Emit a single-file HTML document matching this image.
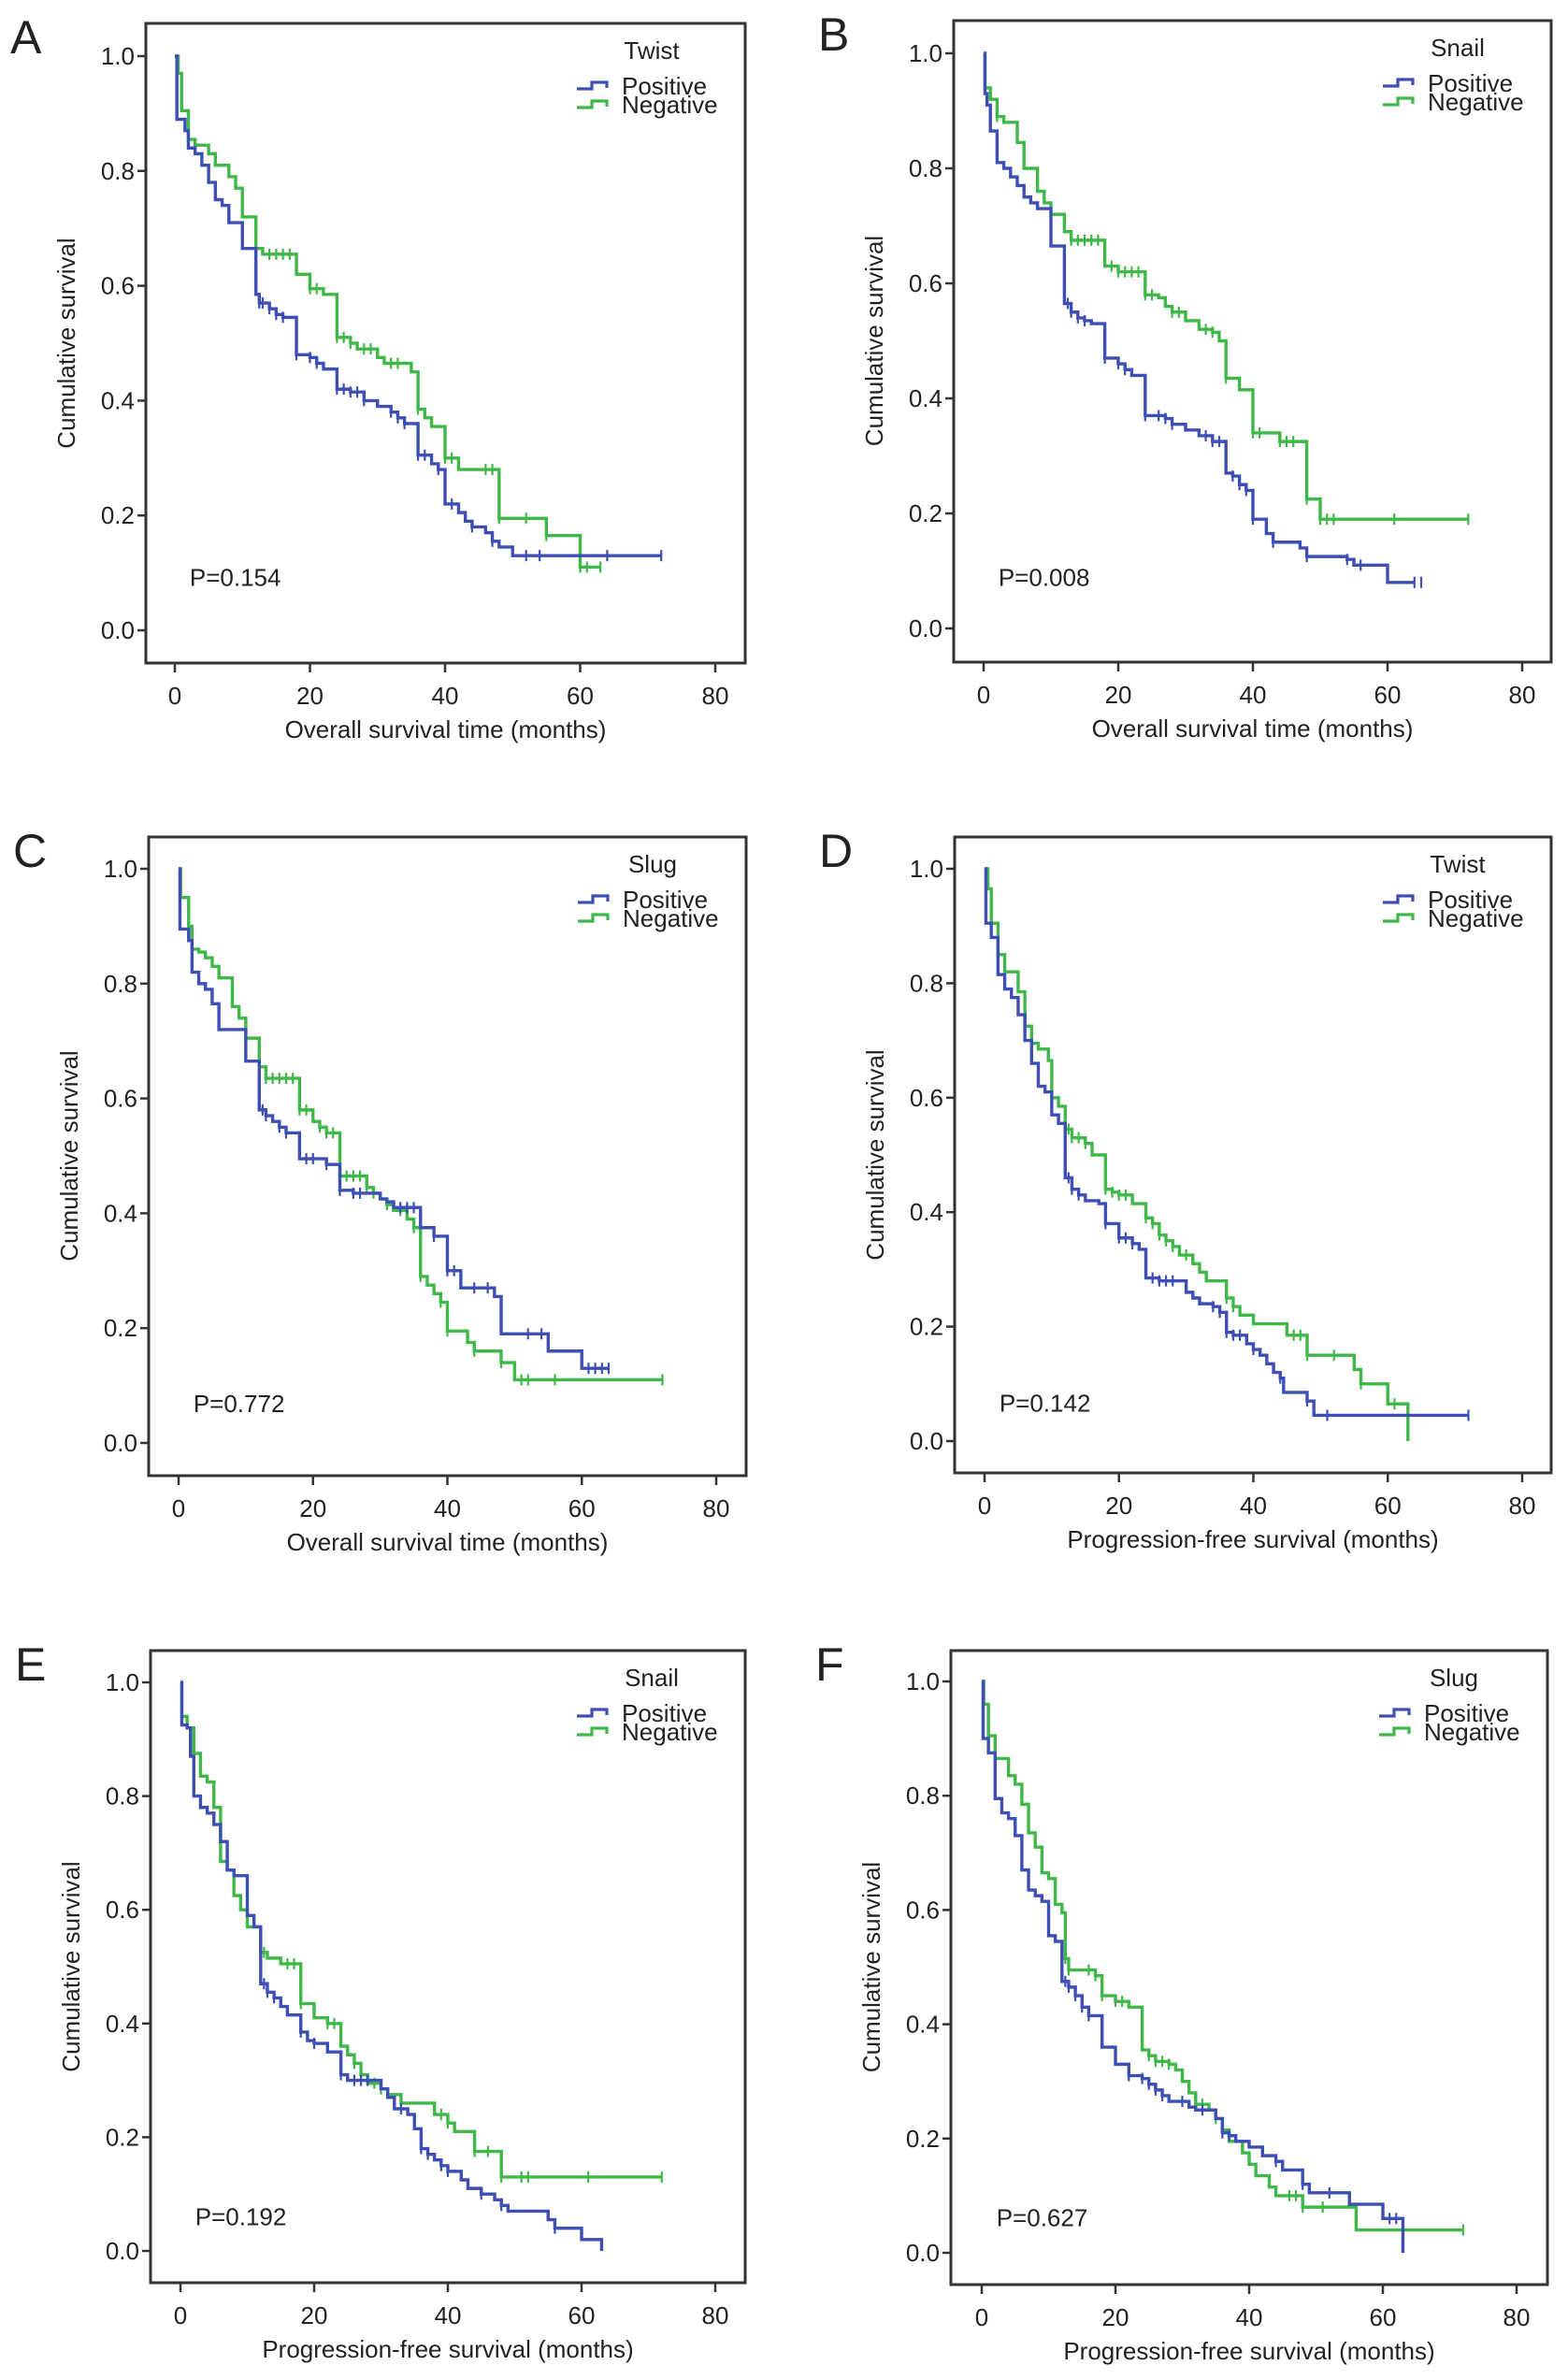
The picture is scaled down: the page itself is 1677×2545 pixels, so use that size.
<!DOCTYPE html>
<html><head><meta charset="utf-8">
<style>
html,body{margin:0;padding:0;background:#fff;}
svg{display:block;}
text{font-family:"Liberation Sans",Arial,sans-serif;fill:#222;}
</style></head>
<body>
<svg id="fig" width="1677" height="2545" viewBox="0 0 1677 2545" xmlns="http://www.w3.org/2000/svg"></svg>
<script>
// ---------- DATA (step times / survival after step / censor times) ----------
const aPosT=[0,0.3,1.5,2,3,4,5,6,7,8,10,12,12.5,14,15,16,18,20,21,22,24,26,28,30,32,33,34,36,38,39,40,42,43,44,46,47,48,50];
const aPosS=[1.0,0.89,0.87,0.84,0.83,0.81,0.78,0.75,0.74,0.71,0.665,0.585,0.57,0.56,0.55,0.545,0.48,0.475,0.465,0.455,0.42,0.415,0.40,0.39,0.38,0.37,0.36,0.305,0.29,0.28,0.22,0.205,0.19,0.18,0.17,0.155,0.145,0.13];
const aPosEnd=72;
const aPosC=[12.5,13,14,15,16,18,20,21,24,25,26,27,28,32,33,34,36,37,39,41,44,47,52,54,64,72];
const aNegT=[0,0.5,1,2,3,5,6,8,9,10,12,13,18,20,22,24,26,27,30,31,35,36,37,38,40,42,48,55,60];
const aNegS=[1.0,0.97,0.905,0.855,0.845,0.83,0.81,0.79,0.77,0.72,0.665,0.655,0.62,0.595,0.585,0.51,0.50,0.49,0.475,0.465,0.45,0.385,0.37,0.355,0.30,0.28,0.195,0.165,0.11];
const aNegEnd=63;
const aNegC=[14,15,16,17,20,21,24,25,26,28,29,32,33,36,40,41,46,47,48,52,55,60,61,63];

const bPosT=[0,0.2,0.5,1,2,3,4,5,6,7,8,10,12,13,14,15,16,18,20,21,22,24,27,28,30,32,34,36,37,38,39,40,42,43,47,48,54,55,60];
const bPosS=[1.0,0.93,0.91,0.865,0.81,0.80,0.785,0.77,0.75,0.74,0.73,0.665,0.565,0.55,0.54,0.535,0.53,0.47,0.46,0.45,0.44,0.37,0.365,0.355,0.345,0.335,0.325,0.27,0.265,0.25,0.24,0.19,0.165,0.15,0.14,0.125,0.12,0.11,0.08];
const bPosEnd=64;
const bPosC=[12.5,13,14,15,18,20,21,24,26,27,28,33,34,35,37,38,39,40,43,48,54,56,64,65];
const bNegT=[0,0.2,1,2,3,5,6,8,9,10,12,13,18,20,24,26,27,28,30,32,34,35,36,38,40,44,48,50];
const bNegS=[1.0,0.94,0.92,0.89,0.88,0.845,0.80,0.76,0.74,0.72,0.69,0.675,0.63,0.62,0.58,0.575,0.56,0.55,0.535,0.52,0.515,0.50,0.435,0.415,0.34,0.325,0.225,0.19];
const bNegEnd=72;
const bNegC=[2,13,14,15,16,17,19,20,21,22,23,24,25,28,29,33,34,36,40,41,44,45,46,48,50,51,52,61,72];

const cPosT=[0,0.2,1.5,2,3,4,5,6,10,12,13,14,15,16,18,22,24,26,30,31,32,36,38,40,42,47,48,55,60];
const cPosS=[1.0,0.895,0.875,0.82,0.80,0.79,0.765,0.72,0.665,0.58,0.57,0.56,0.55,0.54,0.495,0.485,0.44,0.435,0.425,0.42,0.41,0.375,0.36,0.30,0.27,0.255,0.19,0.16,0.13];
const cPosEnd=64;
const cPosC=[12.5,13,15,16,19,20,22,24,26,27,33,34,35,38,40,41,44,46,52,54,61,62,63,64];
const cNegT=[0,0.3,1.5,2,3,4,5,6,8,9,10,12,13,18,20,21,22,24,28,29,30,31,32,34,35,36,37,38,39,40,43,44,48,50];
const cNegS=[1.0,0.95,0.90,0.86,0.855,0.845,0.83,0.81,0.76,0.74,0.705,0.655,0.635,0.58,0.56,0.55,0.54,0.465,0.445,0.435,0.425,0.415,0.405,0.39,0.375,0.29,0.275,0.26,0.245,0.195,0.175,0.16,0.14,0.11];
const cNegEnd=72;
const cNegC=[2,13,14,15,16,17,18,19,21,22,23,25,26,27,28,29,31,33,35,36,39,40,44,48,51,52,56,72];

const dPosT=[0,0.2,1,2,3,4,5,6,7,8,9,10,11,12,13,14,15,17,18,20,22,23,24,26,30,31,32,34,35,36,37,39,40,41,42,43,44,44.5,48,49];
const dPosS=[1.0,0.905,0.88,0.815,0.79,0.775,0.745,0.70,0.66,0.62,0.61,0.57,0.555,0.46,0.44,0.43,0.42,0.415,0.38,0.355,0.345,0.335,0.285,0.28,0.26,0.25,0.24,0.235,0.225,0.19,0.185,0.17,0.16,0.15,0.135,0.12,0.11,0.085,0.07,0.045];
const dPosEnd=72;
const dPosC=[12.5,13,14,18,20,21,22,25,26,27,28,34,35,36,37,38,40,44,48,51,72];
const dNegT=[0,0.5,1,2,3,5,6,7,8,9.5,10,11,12,13,15,16,18,19,20,22,24,25,26,27,28,29,31,32,33,36,37,38,40,45,48,55,56,60,63];
const dNegS=[1.0,0.965,0.905,0.85,0.82,0.785,0.725,0.695,0.685,0.665,0.60,0.585,0.545,0.53,0.52,0.50,0.44,0.435,0.43,0.415,0.39,0.38,0.36,0.35,0.34,0.325,0.31,0.295,0.28,0.25,0.235,0.22,0.205,0.185,0.15,0.125,0.10,0.065,0.0];
const dNegEnd=63;
const dNegC=[1,2,3,12.5,13,14,15,18,19,20,21,24,25,26,27,28,30,36,37,46,47,48,52,56,61];

const ePosT=[0,0.2,1,1.5,2,3,4,5,6,7,8,10,11,12,13,14,15,16,18,19,20,22,24,25,28,30,31,32,34,35,36,37,38,39,40,42,43,45,47,48,49,55,56,60,63];
const ePosS=[1.0,0.925,0.92,0.87,0.80,0.78,0.77,0.75,0.72,0.67,0.66,0.59,0.57,0.47,0.455,0.445,0.43,0.415,0.385,0.37,0.365,0.35,0.31,0.30,0.30,0.285,0.27,0.25,0.24,0.215,0.18,0.17,0.16,0.15,0.14,0.125,0.11,0.10,0.09,0.08,0.07,0.055,0.04,0.02,0.0];
const ePosEnd=63;
const ePosC=[12.5,13,14,18,20,24,26,27,28,33,36,37,39,40,45,48,56];
const eNegT=[0,0.2,1,2,3,4,5,6,7,8,9,10,12,13,15,18,20,22,24,25,26,27,28,30,31,33,38,40,41,44,48];
const eNegS=[1.0,0.94,0.92,0.875,0.835,0.825,0.78,0.685,0.67,0.625,0.60,0.57,0.525,0.515,0.505,0.435,0.41,0.40,0.36,0.345,0.33,0.31,0.295,0.285,0.275,0.26,0.24,0.225,0.21,0.175,0.13];
const eNegEnd=72;
const eNegC=[12.5,16,17,18,22,23,26,27,29,30,33,39,40,44,46,48,51,52,61,72];

const fPosT=[0,0.2,1,2,3,4,5,6,7,8,9,10,11,12,13,14,15,16,18,20,22,24,25,26,27,28,31,32,35,36,37,38,40,42,44,45,48,49,55,60,63];
const fPosS=[1.0,0.90,0.875,0.795,0.77,0.76,0.73,0.67,0.635,0.625,0.615,0.555,0.545,0.475,0.465,0.45,0.43,0.415,0.36,0.33,0.31,0.305,0.295,0.285,0.275,0.265,0.255,0.25,0.235,0.21,0.205,0.195,0.185,0.17,0.16,0.145,0.12,0.105,0.085,0.06,0.0];
const fPosEnd=63;
const fPosC=[12.5,13,14,15,16,22,24,25,26,27,30,33,36,37,44,48,52,61,62];
const fNegT=[0,0.3,1,2,4,5,6,7,8,9,10,11,12,12.5,13,17,18,20,22,24,25,26,28,29,30,31,32,34,35,36,37,39,40,41,43,44,48,56];
const fNegS=[1.0,0.96,0.905,0.865,0.835,0.82,0.785,0.735,0.71,0.665,0.655,0.61,0.595,0.515,0.495,0.485,0.45,0.44,0.43,0.355,0.345,0.335,0.33,0.32,0.30,0.28,0.26,0.25,0.235,0.215,0.195,0.175,0.155,0.135,0.115,0.10,0.08,0.04];
const fNegEnd=72;
const fNegC=[12.5,13,16,17,18,20,21,25,26,27,28,33,35,46,47,48,51,72];

const yTicks=[0,0.2,0.4,0.6,0.8,1.0];
const yTickLabels=["0.0","0.2","0.4","0.6","0.8","1.0"];
const xTicks=[0,20,40,60,80];
const xTickLabels=["0","20","40","60","80"];
const pValues=["P=0.154","P=0.008","P=0.772","P=0.142","P=0.192","P=0.627"];
const markers=["Twist","Snail","Slug","Twist","Snail","Slug"];
const xTitles=["Overall survival time (months)","Overall survival time (months)","Overall survival time (months)","Progression-free survival (months)","Progression-free survival (months)","Progression-free survival (months)"];

// ---------- LAYOUT ----------
const panels=[
 {id:"a",letter:"A",L:156,R:797,T:25,B:709,x0:187,x80:765,y0:674,y1:60,pv:0.094,
  pos:[aPosT,aPosS,aPosEnd,aPosC],neg:[aNegT,aNegS,aNegEnd,aNegC]},
 {id:"b",letter:"B",L:1020,R:1659,T:22,B:708,x0:1052,x80:1628,y0:672,y1:57,pv:0.09,
  pos:[bPosT,bPosS,bPosEnd,bPosC],neg:[bNegT,bNegS,bNegEnd,bNegC]},
 {id:"c",letter:"C",L:159,R:798,T:895,B:1578,x0:191,x80:766,y0:1543,y1:929,pv:0.07,
  pos:[cPosT,cPosS,cPosEnd,cPosC],neg:[cNegT,cNegS,cNegEnd,cNegC]},
 {id:"d",letter:"D",L:1021,R:1659,T:895,B:1575,x0:1053,x80:1628,y0:1541,y1:929,pv:0.068,
  pos:[dPosT,dPosS,dPosEnd,dPosC],neg:[dNegT,dNegS,dNegEnd,dNegC]},
 {id:"e",letter:"E",L:161,R:797,T:1765,B:2441,x0:193,x80:765,y0:2407,y1:1799,pv:0.062,
  pos:[ePosT,ePosS,ePosEnd,ePosC],neg:[eNegT,eNegS,eNegEnd,eNegC]},
 {id:"f",letter:"F",L:1017,R:1655,T:1765,B:2443,x0:1050,x80:1622,y0:2409,y1:1798,pv:0.063,
  pos:[fPosT,fPosS,fPosEnd,fPosC],neg:[fNegT,fNegS,fNegEnd,fNegC]}
];
const BLUE="#3d4fb5", GREEN="#3fb849";
const NS="http://www.w3.org/2000/svg";
const svg=document.getElementById("fig");
function mk(tag,attrs,parent){const e=document.createElementNS(NS,tag);for(const k in attrs)e.setAttribute(k,attrs[k]);parent.appendChild(e);return e;}
function txt(s,attrs,parent){const e=mk("text",attrs,parent);e.textContent=s;return e;}

panels.forEach((p,i)=>{
  const sx=t=>p.x0+(p.x80-p.x0)*t/80;
  const sy=v=>p.y0-(p.y0-p.y1)*v;
  const g=mk("g",{},svg);
  
  

  const letter=txt(p.letter,{x:p.L-145,y:p.T+32,"font-size":50},g);
  
  

  const frame=mk("rect",{x:p.L,y:p.T,width:p.R-p.L,height:p.B-p.T,fill:"#fff",stroke:"#333","stroke-width":3},g);
  
  

  const ya=mk("g",{},g);
  
  
  yTicks.forEach((v,k)=>{
    mk("line",{x1:p.L-9,x2:p.L,y1:sy(v),y2:sy(v),stroke:"#333","stroke-width":2.5},ya);
    const t=txt(yTickLabels[k],{x:p.L-12,y:sy(v)+9,"font-size":26,"text-anchor":"end"},ya);
    
    
  });
  const xa=mk("g",{},g);
  
  
  xTicks.forEach((v,k)=>{
    mk("line",{x1:sx(v),x2:sx(v),y1:p.B,y2:p.B+10,stroke:"#333","stroke-width":2.5},xa);
    const t=txt(xTickLabels[k],{x:sx(v),y:p.B+44,"font-size":26,"text-anchor":"middle"},xa);
    
    
  });
  const xt=txt(xTitles[i],{x:(p.L+p.R)/2,y:p.B+80,"font-size":26,"text-anchor":"middle"},g);
  
  
  const cy=(p.y0+p.y1)/2;
  const yt=txt("Cumulative survival",{x:p.L-76,y:cy,"font-size":26,"text-anchor":"middle",transform:"rotate(-90 "+(p.L-76)+" "+cy+")"},g);
  
  

  [[p.neg,GREEN,"negative"],[p.pos,BLUE,"positive"]].forEach(([s,col,nm])=>{
    const [T,S,end,C]=s;
    let d="M"+sx(T[0])+","+sy(S[0]);
    for(let k=1;k<T.length;k++){d+=" H"+sx(T[k])+" V"+sy(S[k]);}
    d+=" H"+sx(end);
    const path=mk("path",{d:d,fill:"none",stroke:col,"stroke-width":3.4},g);
    
    
    const cg=mk("g",{},g);
    
    
    C.forEach(c=>{
      let v=S[0];
      for(let k=0;k<T.length;k++){if(T[k]<=c)v=S[k];}
      const m=mk("line",{x1:sx(c),x2:sx(c),y1:sy(v)-6,y2:sy(v)+6,stroke:col,"stroke-width":2.2},cg);
      
      
    });
  });

  const pt=txt(pValues[i],{x:sx(2.2),y:sy(p.pv)+10,"font-size":26},g);
  
  

  const lg=mk("g",{},g);
  
  
  const lt=txt(markers[i],{x:p.R-100,y:p.T+38,"font-size":26,"text-anchor":"middle"},lg);
  
  
  [["Positive",BLUE,67],["Negative",GREEN,87]].forEach(([lab,col,dy])=>{
    const ix=p.R-180, iy=p.T+dy;
    const e=mk("g",{},lg);
    
    
    mk("path",{d:"M"+ix+","+(iy+3)+" H"+(ix+16)+" V"+(iy-4)+" H"+(ix+32)+" V"+(iy+2),fill:"none",stroke:col,"stroke-width":3.2},e);
    txt(lab,{x:p.R-132,y:iy+9,"font-size":26},e);
  });
});
</script>
</body></html>
